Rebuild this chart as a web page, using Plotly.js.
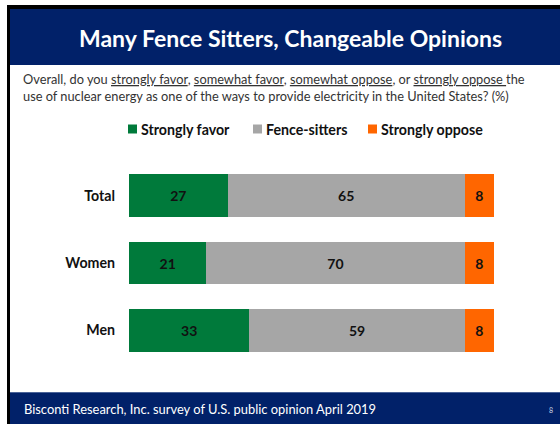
<!DOCTYPE html>
<html>
<head>
<meta charset="utf-8">
<script src="https://cdn.plot.ly/plotly-3.0.1.min.js"></script>
<style>
  html, body { margin: 0; padding: 0; background: #ffffff; }
  #chart { width: 560px; height: 424px; }
</style>
</head>
<body>
<div id="chart"></div>
<script>
// ---- data ----
const categories = ["Total", "Women", "Men"];
const seriesNames = ["Strongly favor", "Fence-sitters", "Strongly oppose"];
const stronglyFavor = [27, 21, 33];
const fenceSitters = [65, 70, 59];
const stronglyOppose = [8, 8, 8];
const seriesColors = ["#007A3B", "#A6A6A6", "#FF6600"];

// ---- layout geometry (pixels) ----
const W = 560, H = 424;
const ML = 129, MR = 66, MT = 162, MB = 60;
const PW = W - ML - MR, PH = H - MT - MB;
const fx = px => (px - ML) / PW;
const fy = py => (H - MB - py) / PH;

const FONT = "Lato, 'Open Sans', sans-serif";
const NAVY = "#012169";

const seriesValues = [stronglyFavor, fenceSitters, stronglyOppose];
const traces = seriesValues.map((vals, i) => ({
  type: "bar",
  orientation: "h",
  name: seriesNames[i],
  y: categories,
  x: vals,
  text: vals.map(String),
  texttemplate: "<b>%{text}</b>",
  textposition: "inside",
  insidetextanchor: "middle",
  textangle: 0,
  insidetextfont: { family: FONT, size: 14, color: "#111111" },
  marker: { color: seriesColors[i] },
  hoverinfo: "name+text",
  showlegend: false
}));

const shapes = [
  // left black border
  { type: "rect", xref: "paper", yref: "paper", x0: fx(7), x1: fx(10), y0: fy(5), y1: fy(424), fillcolor: "#000000", line: { width: 0 }, layer: "below" },
  // top black border
  { type: "rect", xref: "paper", yref: "paper", x0: fx(7), x1: fx(560), y0: fy(5), y1: fy(9), fillcolor: "#000000", line: { width: 0 }, layer: "below" },
  // header band
  { type: "rect", xref: "paper", yref: "paper", x0: fx(10), x1: fx(560), y0: fy(9), y1: fy(65), fillcolor: NAVY, line: { width: 0 }, layer: "below" },
  // footer band
  { type: "rect", xref: "paper", yref: "paper", x0: fx(10), x1: fx(560), y0: fy(392), y1: fy(424), fillcolor: NAVY, line: { width: 0 }, layer: "below" },
  // footer top light line
  { type: "line", xref: "paper", yref: "paper", x0: fx(10), x1: fx(560), y0: fy(392.5), y1: fy(392.5), line: { color: "#4A6398", width: 1 }, layer: "below" }
];

// manual legend
const legendX = [128, 253, 368];
const legendY = 129;
seriesNames.forEach((n, i) => {
  shapes.push({ type: "rect", xref: "paper", yref: "paper",
    x0: fx(legendX[i]), x1: fx(legendX[i] + 9), y0: fy(legendY - 4.5), y1: fy(legendY + 4.5),
    fillcolor: seriesColors[i], line: { width: 0 } });
});

const annotations = [
  { text: "<b>Many Fence Sitters, Changeable Opinions</b>", xref: "paper", yref: "paper",
    x: fx(290), y: fy(38), xanchor: "center", yanchor: "middle", showarrow: false,
    font: { family: FONT, size: 23, color: "#ffffff" } },
  { text: "Overall, do you <u>strongly favor</u>, <u>somewhat favor</u>, <u>somewhat oppose</u>, or <u>strongly oppose </u>the<br>use of nuclear energy as one of the ways to provide electricity in the United States? (%)",
    xref: "paper", yref: "paper", x: fx(21), y: fy(69), xanchor: "left", yanchor: "top", align: "left",
    showarrow: false, font: { family: FONT, size: 12.8, color: "#333333" } },
  { text: "Bisconti Research, Inc. survey of U.S. public opinion April 2019", xref: "paper", yref: "paper",
    x: fx(22), y: fy(409), xanchor: "left", yanchor: "middle", showarrow: false,
    font: { family: FONT, size: 12.9, color: "#ffffff" } },
  { text: "8", xref: "paper", yref: "paper", x: fx(551), y: fy(410), xanchor: "center", yanchor: "middle",
    showarrow: false, font: { family: FONT, size: 7, color: "#d0d6e4" } }
];
seriesNames.forEach((n, i) => {
  annotations.push({ text: "<b>" + n + "</b>", xref: "paper", yref: "paper",
    x: fx(legendX[i] + 11), y: fy(legendY), xanchor: "left", yanchor: "middle", showarrow: false,
    font: { family: FONT, size: 14.2, color: "#111111" } });
});

const layout = {
  width: W, height: H,
  margin: { l: ML, r: MR, t: MT, b: MB, pad: 0 },
  paper_bgcolor: "#ffffff",
  plot_bgcolor: "rgba(0,0,0,0)",
  barmode: "stack",
  barnorm: "percent",
  bargap: 0.366,
  showlegend: false,
  font: { family: FONT, color: "#111111" },
  xaxis: { range: [0, 100], visible: false, fixedrange: true },
  yaxis: {
    autorange: "reversed",
    showgrid: false, zeroline: false, showline: false,
    ticks: "", ticklabelstandoff: 13,
    tickfont: { family: FONT, size: 14.2, color: "#111111", weight: "bold" },
    fixedrange: true
  },
  shapes: shapes,
  annotations: annotations
};

Plotly.newPlot("chart", traces, layout, { displayModeBar: false, staticPlot: true });
</script>
</body>
</html>
